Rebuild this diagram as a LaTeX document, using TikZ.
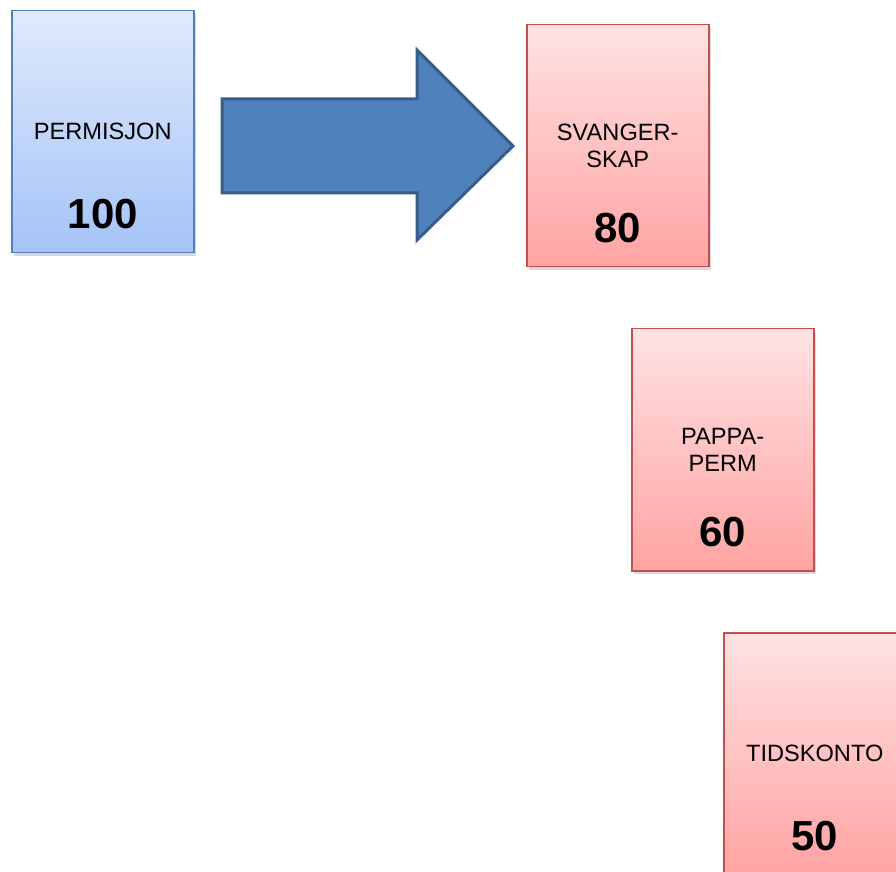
\documentclass[tikz,border=0pt]{standalone}
\usepackage{fontspec}
\setmainfont{Liberation Sans}
\usetikzlibrary{shadows}

\definecolor{blueedge}{HTML}{4F81BD}
\definecolor{bluetop}{HTML}{E0EAFC}
\definecolor{bluebot}{HTML}{A5C3F7}
\definecolor{rededge}{HTML}{C0504D}
\definecolor{redtop}{HTML}{FFE2E2}
\definecolor{redbot}{HTML}{FFA3A3}
\definecolor{arrowfill}{HTML}{4F81BD}
\definecolor{arrowedge}{HTML}{385D8A}

\begin{document}
\begin{tikzpicture}[x=0.5pt,y=-0.5pt,
    card/.style={line width=0.75pt, minimum width=91pt, minimum height=121pt,
        inner sep=0pt, anchor=north west,
        drop shadow={shadow xshift=1pt, shadow yshift=-1.5pt, opacity=0.3}},
    bluecard/.style={card, draw=blueedge, top color=bluetop, bottom color=bluebot},
    redcard/.style={card, draw=rededge, top color=redtop, bottom color=redbot},
    cardlabel/.style={align=center, font=\fontsize{11.8}{13.5}\selectfont},
    cardvalue/.style={yshift=-41pt, font=\bfseries\fontsize{21}{24}\selectfont}]
    \useasboundingbox (0,0) rectangle (896,872);
    \clip (0,0) rectangle (896,872);
    % blocks
    \node [bluecard] (perm) at (11,10) {};
    \node [redcard] (svang) at (526,24) {};
    \node [redcard] (pappa) at (631,328) {};
    \node [redcard] (tids) at (723,632) {};
    % texts
    \node [cardlabel] (permtxt) at (perm.center) {PERMISJON};
    \node [cardvalue] (permval) at (perm.center) {100};
    \node [cardlabel] (svangtxt) at (svang.center) {SVANGER-\\SKAP};
    \node [cardvalue] (svangval) at (svang.center) {80};
    \node [cardlabel] (pappatxt) at (pappa.center) {PAPPA-\\PERM};
    \node [cardvalue] (pappaval) at (pappa.center) {60};
    \node [cardlabel] (tidstxt) at (tids.center) {TIDSKONTO};
    \node [cardvalue] (tidsval) at (tids.center) {50};
    % big arrow
    \draw [line width=1.5pt, draw=arrowedge, fill=arrowfill, line join=miter]
        (222,99) -- (417,99) -- (417,50) -- (513,146) -- (417,240)
        -- (417,193) -- (222,193) -- cycle;
\end{tikzpicture}
\end{document}
